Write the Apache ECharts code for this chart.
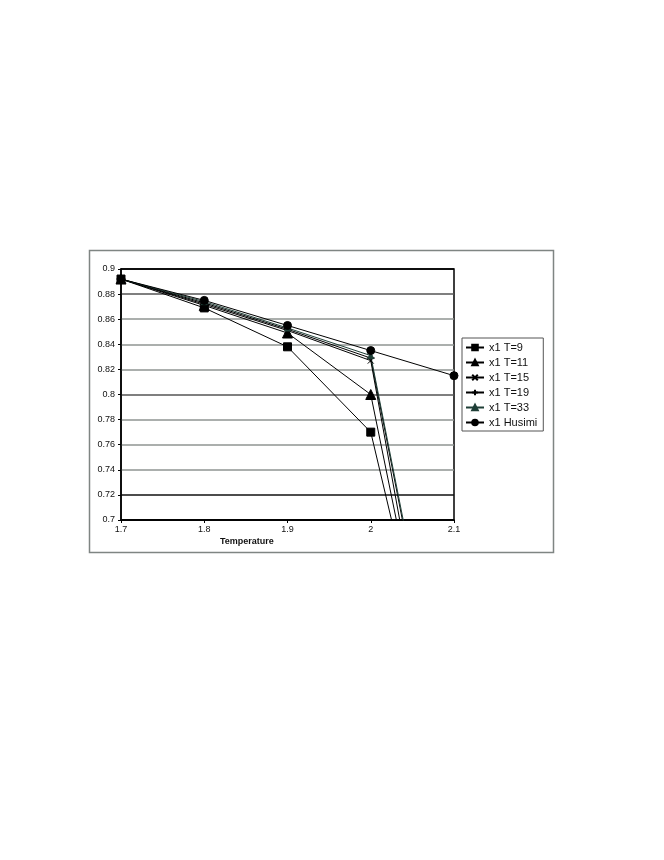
<!DOCTYPE html>
<html>
<head>
<meta charset="utf-8">
<title>x1 vs Temperature</title>
<script src="https://cdn.jsdelivr.net/npm/echarts@6/dist/echarts.min.js"></script>
<style>
  html, body { margin: 0; padding: 0; background: #fff; }
  #chart { width: 664px; height: 860px; }
</style>
</head>
<body>
<div id="chart"></div>
<script>
// temperatures on the x axis
const temperatures = ['1.7', '1.8', '1.9', '2', '2.1']

// x1 values per series (the 2.1 points of T series lie below the axis)
const x1T9 = [0.892, 0.869, 0.838, 0.770, 0.490]
const x1T11 = [0.892, 0.871, 0.849, 0.800, 0.475]
const x1T15 = [0.892, 0.872, 0.851, 0.827, 0.462]
const x1T19 = [0.892, 0.873, 0.852, 0.829, 0.490]
const x1T33 = [0.892, 0.874, 0.853, 0.831, 0.495]
const x1Husimi = [0.892, 0.875, 0.855, 0.835, 0.815]

const seriesNames = ['x1 T=9', 'x1 T=11', 'x1 T=15', 'x1 T=19', 'x1 T=33', 'x1 Husimi']

const chart = echarts.init(document.getElementById('chart'))

// one line series
function makeLine(name, data, symbol, size, color) {
  return {
    name: name,
    type: 'line',
    data: data,
    symbol: symbol,
    symbolSize: size,
    showAllSymbol: true,
    clip: true,
    lineStyle: { color: color, width: 1 },
    itemStyle: { color: color, borderColor: color, borderWidth: 1 },
    emphasis: { disabled: true }
  }
}

const crossPath = 'path://M0,0L10,10M10,0L0,10'
const plusPath = 'path://M0,5L10,5M5,0L5,10'
const smallTri = 'path://M5,0L10,10L0,10Z'

chart.setOption({
  animation: false,
  backgroundColor: '#fff',
  textStyle: { fontFamily: 'Liberation Sans, Arial, sans-serif' },
  graphic: [
    {
      // outer chart area border
      type: 'rect',
      shape: { x: 89.5, y: 250.5, width: 464, height: 302 },
      style: { fill: 'none', stroke: '#7f8583', lineWidth: 1.5 },
      z: -1
    },
    {
      type: 'text',
      left: 220,
      top: 537,
      style: {
        text: 'Temperature',
        font: 'bold 9px Liberation Sans, Arial, sans-serif',
        fill: '#111'
      }
    }
  ],
  grid: {
    left: 121,
    right: 210,
    top: 269,
    bottom: 340,
    show: true,
    borderColor: '#000',
    borderWidth: 1.5,
    backgroundColor: '#fff'
  },
  legend: {
    data: seriesNames,
    orient: 'vertical',
    left: 462,
    top: 338,
    padding: [4, 6, 3, 3],
    itemWidth: 18,
    itemHeight: 7,
    itemGap: 4,
    backgroundColor: '#fff',
    borderColor: '#555',
    borderWidth: 1,
    textStyle: { fontSize: 11, color: '#111' }
  },
  xAxis: {
    type: 'category',
    data: temperatures,
    boundaryGap: false,
    axisLine: { onZero: false, lineStyle: { color: '#000', width: 1.5 } },
    axisTick: { show: true, alignWithLabel: true, length: 3, lineStyle: { color: '#000' } },
    axisLabel: { fontSize: 9, color: '#111', margin: 5 },
    splitLine: { show: false }
  },
  yAxis: {
    type: 'value',
    min: 0.7,
    max: 0.9,
    interval: 0.02,
    axisLine: { show: true, lineStyle: { color: '#000', width: 1.5 } },
    axisTick: { show: true, length: 3, lineStyle: { color: '#000' } },
    axisLabel: {
      fontSize: 9,
      color: '#111',
      margin: 6,
      formatter: function (v) { return String(Math.round(v * 100) / 100) }
    },
    splitLine: {
      show: true,
      lineStyle: {
        width: 1.5,
        color: ['#000', '#111', '#8f9492', '#8f9492', '#8f9492', '#555', '#8f9492', '#8f9492', '#8f9492', '#555', '#000']
      }
    }
  },
  series: [
    makeLine('x1 T=9', x1T9, 'rect', 8, '#000'),
    makeLine('x1 T=11', x1T11, 'triangle', 10, '#000'),
    makeLine('x1 T=15', x1T15, crossPath, 6, '#000'),
    makeLine('x1 T=19', x1T19, plusPath, 8, '#000'),
    makeLine('x1 T=33', x1T33, smallTri, 6, '#1f3f37'),
    makeLine('x1 Husimi', x1Husimi, 'circle', 8, '#000')
  ]
})
</script>
</body>
</html>
